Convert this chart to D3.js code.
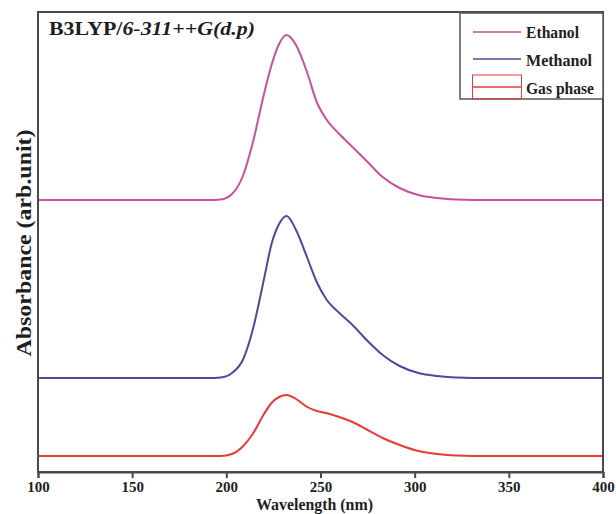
<!DOCTYPE html>
<html><head><meta charset="utf-8">
<script src="https://cdn.jsdelivr.net/npm/d3@7"></script>
<style>body{margin:0;background:#fff}</style>
</head><body>
<svg id="c" width="616" height="514"></svg>
<script>
const wavelengths = [100,190,197,203,209,214,220,224,228,232,237,243,248,253,260,267,275,283,292,302,312,322,340,400];
const ethanol  = [2.72,2.72,2.725,2.78,2.97,3.29,3.78,4.07,4.28,4.37,4.27,3.99,3.70,3.53,3.38,3.25,3.10,2.95,2.84,2.77,2.74,2.725,2.72,2.72];
const methanol = [0.94,0.94,0.945,0.99,1.13,1.42,1.93,2.28,2.48,2.56,2.42,2.14,1.90,1.73,1.59,1.47,1.31,1.17,1.06,0.99,0.96,0.945,0.94,0.94];
const gasPhase = [0.16,0.16,0.16,0.18,0.26,0.38,0.58,0.69,0.75,0.77,0.73,0.65,0.61,0.59,0.55,0.50,0.42,0.34,0.27,0.21,0.18,0.165,0.16,0.16];
const seriesNames = ["Ethanol","Methanol","Gas phase"];
const seriesColors = ["#c9509c","#4b4b9b","#e8393b"];
const xTicks = [100,150,200,250,300,350,400];

const svg = d3.select("#c");
const L=38,R=603,T=12,B=472;
const x = d3.scaleLinear().domain([100,400]).range([L,R]);
const y = d3.scaleLinear().domain([0,4.6]).range([B,T]);
const serif = "'Liberation Serif','Times New Roman',serif";
const ink = "#1e1e1e";

const series = [ethanol, methanol, gasPhase];
const line = d3.line().x((d,i)=>x(wavelengths[i])).y(d=>y(d)).curve(d3.curveMonotoneX);
series.forEach((s,k)=>{
  svg.append("path").attr("d", line(s)).attr("fill","none")
    .attr("stroke", seriesColors[k]).attr("stroke-width",2);
});

// frame
svg.append("rect").attr("x",L).attr("y",T).attr("width",R-L).attr("height",B-T)
  .attr("fill","none").attr("stroke","#4a4a4a").attr("stroke-width",2);

// x axis
const ax = svg.append("g").attr("transform",`translate(0,${B})`)
  .call(d3.axisBottom(x).tickValues(xTicks).tickSize(6).tickPadding(3).tickFormat(d3.format("d")));
ax.select(".domain").attr("stroke","#4a4a4a").attr("stroke-width",2);
ax.selectAll(".tick line").attr("stroke","#4a4a4a").attr("stroke-width",2);
ax.selectAll(".tick text").attr("font-family",serif).attr("font-weight","bold")
  .attr("font-size",15).attr("fill",ink);

svg.append("text").attr("x",(L+R)/2 - 6).attr("y",510).attr("text-anchor","middle")
  .attr("font-family",serif).attr("font-weight","bold").attr("font-size",16).attr("fill",ink)
  .attr("textLength",117).attr("lengthAdjust","spacingAndGlyphs")
  .text("Wavelength (nm)");
svg.append("text").attr("transform",`translate(31,243) rotate(-90)`).attr("text-anchor","middle")
  .attr("font-family",serif).attr("font-weight","bold").attr("font-size",22).attr("fill",ink)
  .attr("textLength",227).attr("lengthAdjust","spacingAndGlyphs")
  .text("Absorbance (arb.unit)");

// title
const t = svg.append("text").attr("x",49).attr("y",35).attr("font-family",serif)
  .attr("font-weight","bold").attr("font-size",19).attr("fill",ink)
  .attr("textLength",206).attr("lengthAdjust","spacingAndGlyphs");
t.append("tspan").text("B3LYP/");
t.append("tspan").attr("font-style","italic").text("6-311++G(d.p)");

// legend
svg.append("rect").attr("x",460).attr("y",13).attr("width",R-460).attr("height",86)
  .attr("fill","#fff").attr("stroke","#555").attr("stroke-width",1.5);
const ly=[32,59,87];
const lbase=[38,66,94];
const lw=[53,66,68];
seriesNames.forEach((n,k)=>{
  if(k<2){
    svg.append("line").attr("x1",473).attr("x2",521).attr("y1",ly[k]).attr("y2",ly[k])
      .attr("stroke",seriesColors[k]).attr("stroke-width",1.5);
  } else {
    svg.append("rect").attr("x",472.5).attr("y",75).attr("width",49).attr("height",24)
      .attr("fill","none").attr("stroke",seriesColors[k]).attr("stroke-width",1);
    svg.append("line").attr("x1",472.5).attr("x2",521.5).attr("y1",ly[k]).attr("y2",ly[k])
      .attr("stroke",seriesColors[k]).attr("stroke-width",1.5);
  }
  svg.append("text").attr("x",526).attr("y",lbase[k]).attr("font-family",serif)
    .attr("font-weight","bold").attr("font-size",16).attr("fill",ink)
    .attr("textLength",lw[k]).attr("lengthAdjust","spacingAndGlyphs").text(n);
});
</script>
</body></html>
